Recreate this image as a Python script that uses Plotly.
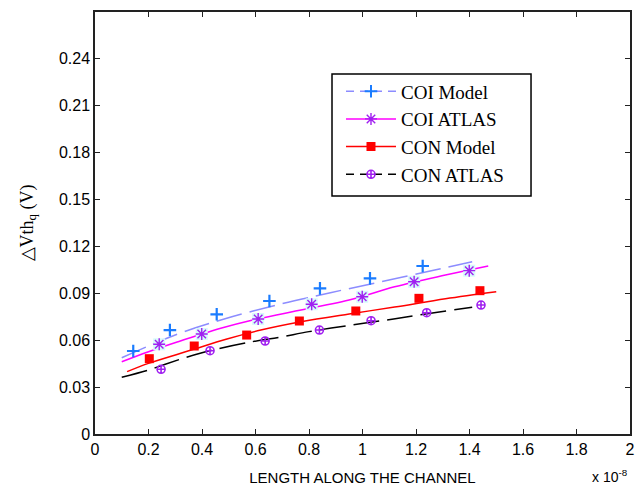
import plotly.graph_objects as go

# ---- data (x in units of 1e-8) ----
coi_model_x = [0.10, 0.31, 0.48, 0.69, 0.88, 1.07, 1.27, 1.41]
coi_model_y = [0.0488, 0.0640, 0.0734, 0.0830, 0.0904, 0.0974, 0.1049, 0.1102]
coi_model_pts_x = [0.143, 0.280, 0.455, 0.652, 0.841, 1.028, 1.225]
coi_model_pts_y = [0.0531, 0.0665, 0.0766, 0.0851, 0.0932, 0.0996, 0.1075]

coi_atlas_x = [0.10, 0.20, 0.31, 0.47, 0.59, 0.72, 0.95, 1.12, 1.31, 1.47]
coi_atlas_y = [0.0462, 0.0526, 0.0590, 0.0676, 0.0729, 0.0776, 0.0857, 0.0942, 0.1017, 0.1075]
coi_atlas_pts_x = [0.240, 0.399, 0.610, 0.810, 0.999, 1.193, 1.399]
coi_atlas_pts_y = [0.0574, 0.0640, 0.0736, 0.0830, 0.0878, 0.0974, 0.1045]

con_model_x = [0.12, 0.20, 0.36, 0.49, 0.62, 0.77, 0.95, 1.12, 1.31, 1.50]
con_model_y = [0.0399, 0.0452, 0.0537, 0.0606, 0.0665, 0.0718, 0.0768, 0.0812, 0.0865, 0.0910]
con_model_pts_x = [0.203, 0.371, 0.567, 0.764, 0.975, 1.211, 1.439]
con_model_pts_y = [0.0482, 0.0563, 0.0633, 0.0723, 0.0787, 0.0868, 0.0917]

con_atlas_x = [0.10, 0.20, 0.26, 0.40, 0.59, 0.69, 0.80, 0.95, 1.08, 1.21, 1.41]
con_atlas_y = [0.0363, 0.0409, 0.0445, 0.0520, 0.0591, 0.0619, 0.0655, 0.0695, 0.0727, 0.0761, 0.0811]
con_atlas_pts_x = [0.247, 0.430, 0.636, 0.839, 1.032, 1.240, 1.443]
con_atlas_pts_y = [0.0414, 0.0533, 0.0595, 0.0665, 0.0725, 0.0776, 0.0825]

x_ticks = [0, 0.2, 0.4, 0.6, 0.8, 1, 1.2, 1.4, 1.6, 1.8, 2]
x_tick_labels = ["0", "0.2", "0.4", "0.6", "0.8", "1", "1.2", "1.4", "1.6", "1.8", "2"]
y_ticks = [0, 0.03, 0.06, 0.09, 0.12, 0.15, 0.18, 0.21, 0.24]
y_tick_labels = ["0", "0.03", "0.06", "0.09", "0.12", "0.15", "0.18", "0.21", "0.24"]

names = ["COI Model", "COI ATLAS", "CON Model", "CON ATLAS"]

PURPLE = "#a020f0"
BLUE = "#1a7cff"

fig = go.Figure()

# curves
fig.add_trace(go.Scatter(x=coi_model_x, y=coi_model_y, mode="lines", line=dict(color="#8c8cff", width=1.5, dash="26px,8px", shape="spline"), showlegend=False, hoverinfo="skip"))
fig.add_trace(go.Scatter(x=coi_atlas_x, y=coi_atlas_y, mode="lines", line=dict(color="#ff00ff", width=1.5, shape="spline"), showlegend=False, hoverinfo="skip"))
fig.add_trace(go.Scatter(x=con_model_x, y=con_model_y, mode="lines", line=dict(color="#ff0000", width=1.5, shape="spline"), showlegend=False, hoverinfo="skip"))
fig.add_trace(go.Scatter(x=con_atlas_x, y=con_atlas_y, mode="lines", line=dict(color="#000000", width=1.5, dash="26px,8px", shape="spline"), showlegend=False, hoverinfo="skip"))

# halos behind stars
fig.add_trace(go.Scatter(x=coi_atlas_pts_x, y=coi_atlas_pts_y, mode="markers", marker=dict(symbol="square", size=12, color="#d6fbfb"), showlegend=False, hoverinfo="skip"))

# markers
fig.add_trace(go.Scatter(x=coi_model_pts_x, y=coi_model_pts_y, mode="markers", marker=dict(symbol="cross-thin", size=9, line=dict(color=BLUE, width=2.2)), showlegend=False))
fig.add_trace(go.Scatter(x=coi_atlas_pts_x, y=coi_atlas_pts_y, mode="markers", marker=dict(symbol="asterisk", size=10, line=dict(color=PURPLE, width=1.4)), showlegend=False))
fig.add_trace(go.Scatter(x=con_model_pts_x, y=con_model_pts_y, mode="markers", marker=dict(symbol="square", size=9, color="#ff0000"), showlegend=False))
fig.add_trace(go.Scatter(x=con_atlas_pts_x, y=con_atlas_pts_y, mode="markers", marker=dict(symbol="circle-cross-open", size=8, color=PURPLE, line=dict(color=PURPLE, width=1.6)), showlegend=False))

# legend entries
leg_styles = [
    dict(line=dict(color="#8c8cff", width=1.5, dash="8px,6px"), marker=dict(symbol="cross-thin", size=9, line=dict(color=BLUE, width=2))),
    dict(line=dict(color="#ff00ff", width=1.5), marker=dict(symbol="asterisk", size=10, line=dict(color=PURPLE, width=1.4))),
    dict(line=dict(color="#ff0000", width=1.5), marker=dict(symbol="square", size=9, color="#ff0000")),
    dict(line=dict(color="#000000", width=1.5, dash="8px,6px"), marker=dict(symbol="circle-cross-open", size=8, color=PURPLE, line=dict(color=PURPLE, width=1.6))),
]
for i, (nm, st) in enumerate(zip(names, leg_styles)):
    fig.add_trace(go.Scatter(x=[None], y=[None], mode="lines+markers", name=nm, legendgroup=str(i), **st))

fig.update_layout(
    width=641, height=488,
    margin=dict(l=95, r=11, t=12, b=54, autoexpand=False),
    paper_bgcolor="white", plot_bgcolor="white",
    showlegend=True,
    legend=dict(x=0.4598, y=0.857, xanchor="left", yanchor="top",
                borderwidth=0, bgcolor="rgba(0,0,0,0)",
                font=dict(family="Liberation Serif", size=19, color="black"),
                tracegroupgap=0, itemwidth=50),
    shapes=[dict(type="rect", xref="paper", yref="paper", x0=0.443, x1=0.815, y0=0.564, y1=0.853,
                 line=dict(color="black", width=1.5), fillcolor="white", layer="below")],
    xaxis=dict(range=[0, 2], tickvals=x_ticks, ticktext=x_tick_labels, automargin=False,
               ticks="inside", ticklen=5, tickcolor="#222", showline=True, linecolor="#222", linewidth=1.5,
               mirror="ticks", showgrid=False, zeroline=False,
               tickfont=dict(family="Liberation Sans", size=16, color="black"),
               title=dict(text="LENGTH ALONG THE CHANNEL", font=dict(family="Liberation Sans", size=15, color="black"), standoff=16)),
    yaxis=dict(range=[0, 0.27], tickvals=y_ticks, ticktext=y_tick_labels, automargin=False,
               ticks="inside", ticklen=5, tickcolor="#222", showline=True, linecolor="#222", linewidth=1.5,
               mirror="ticks", showgrid=False, zeroline=False,
               tickfont=dict(family="Liberation Sans", size=16, color="black"),
               title=dict(text="△Vth<sub>q</sub> (V)", font=dict(family="Liberation Serif", size=18, color="black"), standoff=21)),
    annotations=[dict(text="x 10<sup>-8</sup>", xref="paper", yref="paper", x=1.0, y=0, yshift=-42,
                      xanchor="right", yanchor="middle", showarrow=False,
                      font=dict(family="Liberation Sans", size=14, color="black"))],
)

fig.write_html("out.html", config={"displayModeBar": False},
               post_script="document.body.style.margin='0';")
